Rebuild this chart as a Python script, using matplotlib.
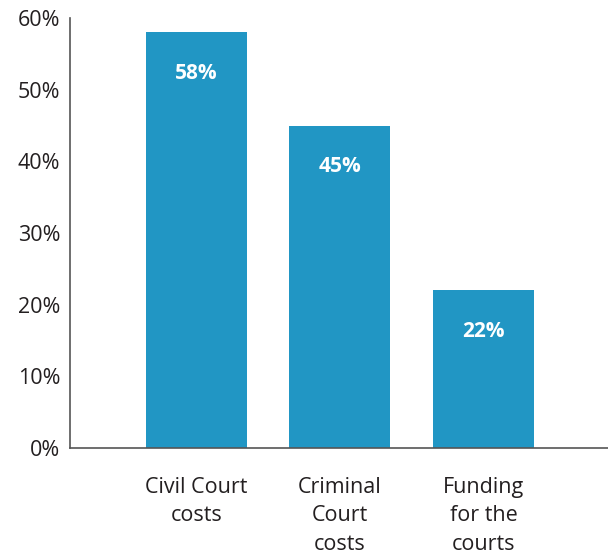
import matplotlib.pyplot as plt
from matplotlib.ticker import FuncFormatter

plt.rcParams["font.family"] = ["Open Sans", "DejaVu Sans"]

categories = ["Civil Court\ncosts", "Criminal\nCourt\ncosts", "Funding\nfor the\ncourts"]
values = [58, 45, 22]
yticks = [0, 10, 20, 30, 40, 50, 60]

bar_color = "#2196c4"
text_color = "#231f20"

fig = plt.figure(figsize=(6.08, 5.56), dpi=100)
ax = fig.add_axes([0.1151, 0.1942, 0.8849, 0.7734])

xs = list(range(len(values)))
bars = ax.bar(xs, values, width=0.704, color=bar_color)

for x, v in zip(xs, values):
    ax.annotate(f"{v}%", (x, v), xytext=(0, -29.5), textcoords="offset points",
                ha="center", va="center", color="white",
                fontsize=15, fontweight="bold")

ax.set_xlim(-0.8815, 2.868)
ax.set_ylim(0, 60)
ax.set_yticks(yticks)
ax.yaxis.set_major_formatter(FuncFormatter(lambda v, p: f"{v:.0f}%"))
ax.set_xticks(xs)
ax.set_xticklabels(categories, linespacing=1.45)

ax.tick_params(axis="both", length=0, labelsize=15.5, colors=text_color)
ax.tick_params(axis="x", pad=21)
ax.tick_params(axis="y", pad=7)

for s in ["top", "right"]:
    ax.spines[s].set_visible(False)
for s in ["left", "bottom"]:
    ax.spines[s].set_color("#555555")
    ax.spines[s].set_linewidth(1.2)

fig.savefig("out.png", dpi=100)
